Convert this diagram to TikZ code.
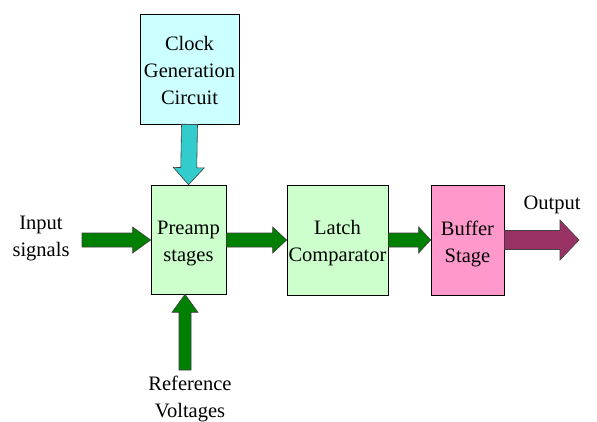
\documentclass[tikz,border=0pt]{standalone}
\usepackage{fontspec}
\setmainfont{Liberation Serif}
\usetikzlibrary{calc}
\definecolor{clockfill}{HTML}{CCFFFF}
\definecolor{clockarrow}{HTML}{33CCCC}
\definecolor{greenfill}{HTML}{CCFFCC}
\definecolor{greenarrow}{HTML}{008000}
\definecolor{pinkfill}{HTML}{FF99CC}
\definecolor{outarrow}{HTML}{993366}
\newcommand{\blockarrow}[6]{%
  \draw[fill=#6, draw=black!75, line width=0.6pt, line join=miter]
    let \p1=(#1), \p2=(#2),
        \n1={atan2(\y2-\y1,\x2-\x1)},
        \n2={veclen(\x2-\x1,\y2-\y1)} in
    [shift={(\p1)}, rotate=\n1]
    (0,-#3) -- ({\n2-#5},-#3) -- ({\n2-#5},-#4) -- (\n2,0)
    -- ({\n2-#5},#4) -- ({\n2-#5},#3) -- (0,#3) -- cycle;}
\begin{document}
\begin{tikzpicture}[x=1pt,y=-1pt,
  every node/.style={font=\rmfamily\fontsize{20.5}{27}\selectfont, align=center, inner sep=0pt},
  blockbox/.style={draw=black, line width=0.7pt},
  lbl/.style={text=black}]
\useasboundingbox (0,0) rectangle (597,421);
\fill[white] (0,0) rectangle (597,421);
\node[blockbox, fill=clockfill, minimum width=99pt, minimum height=110pt] (clock) at (189.5,69) {};
\node[blockbox, fill=greenfill, minimum width=75pt, minimum height=109pt] (pre) at (188.5,239.5) {};
\node[blockbox, fill=greenfill, minimum width=101pt, minimum height=110pt] (latch) at (337.5,240) {};
\node[blockbox, fill=pinkfill, minimum width=73pt, minimum height=110pt] (buf) at (467.5,240) {};
\node[lbl] (clockT) at ([yshift=-1.5pt]clock.center) {Clock\\Generation\\Circuit};
\node[lbl] (preT) at ([yshift=-3.5pt]pre.center) {Preamp\\stages};
\node[lbl] (latchT) at ([yshift=-3.5pt]latch.center) {Latch\\Comparator};
\node[lbl] (bufT) at ([yshift=-3.5pt]buf.center) {Buffer\\Stage};
\node[lbl] (inlbl) at (41,238) {Input\\signals};
\node[lbl] (outlbl) at (552,205) {Output};
\node[lbl] (reflbl) at (190,399) {Reference\\Voltages};
\coordinate (inA) at (82,240);
\coordinate (outA) at (579,240);
\coordinate (refA) at (185,370);
\blockarrow{inA}{inA -| pre.west}{7}{13}{18}{greenarrow}
\blockarrow{clock.south}{pre.north}{8}{15.5}{17}{clockarrow}
\blockarrow{pre.east |- inA}{latch.west |- inA}{7}{13}{14}{greenarrow}
\blockarrow{latch.east |- inA}{buf.west |- inA}{7}{13}{12}{greenarrow}
\blockarrow{buf.east |- outA}{outA}{9.5}{20}{19}{outarrow}
\blockarrow{refA}{refA |- pre.south}{6}{13}{18}{greenarrow}
\end{tikzpicture}
\end{document}
